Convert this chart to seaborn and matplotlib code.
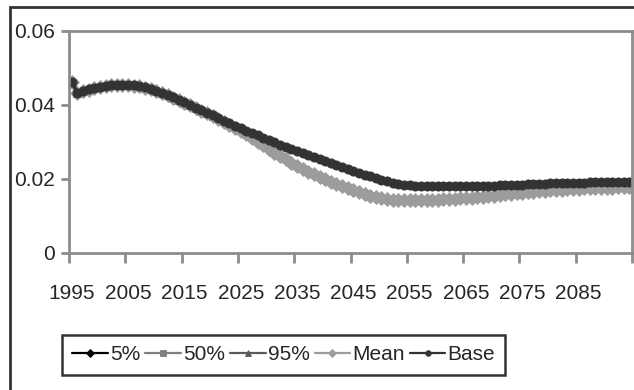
import matplotlib
matplotlib.use("Agg")
import matplotlib.pyplot as plt
from matplotlib.lines import Line2D
import seaborn as sns

# ---- data (one value per year, 1995-2094) ----
years = list(range(1995, 2095))

base = [
    0.0462, 0.0433, 0.0438, 0.0442, 0.0446, 0.0449, 0.0452, 0.0454, 0.0455, 0.0455,
    0.0455, 0.0453, 0.0451, 0.0448, 0.0444, 0.0439, 0.0433, 0.0427, 0.0421, 0.0414,
    0.0407, 0.0400, 0.0393, 0.0386, 0.0379, 0.0372, 0.0365, 0.0358, 0.0351, 0.0344,
    0.0337, 0.0331, 0.0324, 0.0318, 0.0311, 0.0305, 0.0299, 0.0293, 0.0287, 0.0281,
    0.0276, 0.0270, 0.0264, 0.0259, 0.0253, 0.0248, 0.0242, 0.0237, 0.0232, 0.0227,
    0.0222, 0.0217, 0.0212, 0.0207, 0.0202, 0.0198, 0.0194, 0.0190, 0.0187, 0.0185,
    0.0183, 0.0182, 0.0181, 0.0180, 0.0180, 0.0180, 0.0180, 0.0180, 0.0180, 0.0181,
    0.0181, 0.0181, 0.0181, 0.0182, 0.0182, 0.0182, 0.0183, 0.0183, 0.0184, 0.0184,
    0.0185, 0.0186, 0.0186, 0.0187, 0.0187, 0.0188, 0.0188, 0.0189, 0.0189, 0.0190,
    0.0190, 0.0190, 0.0191, 0.0191, 0.0191, 0.0192, 0.0192, 0.0192, 0.0193, 0.0193,
]

mean = [
    0.0461, 0.0432, 0.0437, 0.0441, 0.0445, 0.0448, 0.0451, 0.0453, 0.0454, 0.0454,
    0.0454, 0.0452, 0.0450, 0.0447, 0.0443, 0.0438, 0.0432, 0.0426, 0.0420, 0.0413,
    0.0406, 0.0399, 0.0392, 0.0385, 0.0378, 0.0370, 0.0363, 0.0355, 0.0347, 0.0339,
    0.0330, 0.0321, 0.0311, 0.0301, 0.0291, 0.0281, 0.0271, 0.0262, 0.0253, 0.0244,
    0.0236, 0.0228, 0.0220, 0.0213, 0.0206, 0.0199, 0.0193, 0.0187, 0.0181, 0.0175,
    0.0169, 0.0164, 0.0159, 0.0155, 0.0151, 0.0148, 0.0146, 0.0144, 0.0143, 0.0142,
    0.0142, 0.0142, 0.0143, 0.0143, 0.0144, 0.0144, 0.0145, 0.0146, 0.0147, 0.0148,
    0.0149, 0.0150, 0.0151, 0.0152, 0.0154, 0.0155, 0.0157, 0.0159, 0.0160, 0.0162,
    0.0163, 0.0164, 0.0166, 0.0167, 0.0168, 0.0169, 0.0170, 0.0171, 0.0172, 0.0173,
    0.0174, 0.0175, 0.0175, 0.0176, 0.0176, 0.0177, 0.0177, 0.0178, 0.0178, 0.0179,
]

p5 = [
    0.0460, 0.0431, 0.0436, 0.0440, 0.0444, 0.0447, 0.0450, 0.0452, 0.0453, 0.0453,
    0.0453, 0.0451, 0.0449, 0.0446, 0.0442, 0.0437, 0.0431, 0.0425, 0.0419, 0.0412,
    0.0405, 0.0398, 0.0391, 0.0384, 0.0377, 0.0368, 0.0360, 0.0352, 0.0344, 0.0335,
    0.0326, 0.0317, 0.0307, 0.0297, 0.0287, 0.0277, 0.0267, 0.0258, 0.0249, 0.0240,
    0.0232, 0.0224, 0.0216, 0.0209, 0.0202, 0.0195, 0.0189, 0.0183, 0.0177, 0.0171,
    0.0165, 0.0160, 0.0155, 0.0151, 0.0147, 0.0144, 0.0142, 0.0140, 0.0139, 0.0138,
    0.0138, 0.0138, 0.0139, 0.0139, 0.0140, 0.0140, 0.0141, 0.0142, 0.0143, 0.0144,
    0.0145, 0.0146, 0.0147, 0.0148, 0.0150, 0.0151, 0.0153, 0.0155, 0.0156, 0.0158,
    0.0159, 0.0160, 0.0162, 0.0163, 0.0164, 0.0165, 0.0166, 0.0167, 0.0168, 0.0169,
    0.0170, 0.0171, 0.0171, 0.0172, 0.0172, 0.0173, 0.0173, 0.0174, 0.0174, 0.0175,
]

p50 = [
    0.0461, 0.0432, 0.0437, 0.0441, 0.0445, 0.0448, 0.0451, 0.0453, 0.0454, 0.0454,
    0.0454, 0.0452, 0.0450, 0.0447, 0.0443, 0.0438, 0.0432, 0.0426, 0.0420, 0.0413,
    0.0406, 0.0399, 0.0392, 0.0385, 0.0378, 0.0370, 0.0363, 0.0355, 0.0347, 0.0339,
    0.0329, 0.0320, 0.0310, 0.0300, 0.0290, 0.0280, 0.0270, 0.0261, 0.0252, 0.0243,
    0.0235, 0.0227, 0.0219, 0.0212, 0.0205, 0.0198, 0.0192, 0.0186, 0.0180, 0.0174,
    0.0168, 0.0163, 0.0158, 0.0154, 0.0150, 0.0147, 0.0145, 0.0143, 0.0142, 0.0141,
    0.0141, 0.0141, 0.0142, 0.0142, 0.0143, 0.0143, 0.0144, 0.0145, 0.0146, 0.0147,
    0.0148, 0.0149, 0.0150, 0.0151, 0.0153, 0.0154, 0.0156, 0.0158, 0.0159, 0.0161,
    0.0162, 0.0163, 0.0165, 0.0166, 0.0167, 0.0168, 0.0169, 0.0170, 0.0171, 0.0172,
    0.0173, 0.0174, 0.0174, 0.0175, 0.0175, 0.0176, 0.0176, 0.0177, 0.0177, 0.0178,
]

p95 = [
    0.0461, 0.0432, 0.0437, 0.0441, 0.0445, 0.0448, 0.0451, 0.0453, 0.0454, 0.0454,
    0.0454, 0.0452, 0.0450, 0.0447, 0.0443, 0.0438, 0.0432, 0.0426, 0.0420, 0.0413,
    0.0406, 0.0399, 0.0392, 0.0385, 0.0378, 0.0371, 0.0364, 0.0357, 0.0349, 0.0341,
    0.0333, 0.0324, 0.0314, 0.0304, 0.0294, 0.0284, 0.0274, 0.0265, 0.0256, 0.0247,
    0.0239, 0.0231, 0.0223, 0.0216, 0.0209, 0.0202, 0.0196, 0.0190, 0.0184, 0.0178,
    0.0172, 0.0167, 0.0162, 0.0158, 0.0154, 0.0151, 0.0149, 0.0147, 0.0146, 0.0145,
    0.0145, 0.0145, 0.0146, 0.0146, 0.0147, 0.0147, 0.0148, 0.0149, 0.0150, 0.0151,
    0.0152, 0.0153, 0.0154, 0.0155, 0.0157, 0.0158, 0.0160, 0.0162, 0.0163, 0.0165,
    0.0166, 0.0167, 0.0169, 0.0170, 0.0171, 0.0172, 0.0173, 0.0174, 0.0175, 0.0176,
    0.0177, 0.0178, 0.0178, 0.0179, 0.0179, 0.0180, 0.0180, 0.0181, 0.0181, 0.0182,
]

series_names = ["5%", "50%", "95%", "Mean", "Base"]
year_labels = [str(y) for y in range(1995, 2086, 10)]
y_ticks = [0, 0.02, 0.04, 0.06]
y_labels = ["0", "0.02", "0.04", "0.06"]

# ---- styling ----
sns.set_style("white")
plt.rcParams["font.family"] = ["Liberation Sans", "DejaVu Sans"]

fig = plt.figure(figsize=(6.34, 3.90), dpi=100)
ax = fig.add_axes([69 / 634, 1 - 253 / 390, 563 / 634, 222 / 390])

styles = {
    "5%":   dict(color="#000000", marker="D", markersize=3.8),
    "50%":  dict(color="#7f7f7f", marker="s", markersize=4.6),
    "95%":  dict(color="#5a5a5a", marker="^", markersize=6.0),
    "Mean": dict(color="#9c9c9c", marker="D", markersize=6.8),
    "Base": dict(color="#333333", marker="o", markersize=6.6),
}

for name, vals in zip(series_names, [p5, p50, p95, mean, base]):
    st = styles[name]
    sns.lineplot(x=years, y=vals, ax=ax, label=name, color=st["color"],
                 marker=st["marker"], markersize=st["markersize"],
                 markeredgecolor=st["color"], markeredgewidth=0.6,
                 linewidth=2.4)

ax.set_xlim(1994.5, 2094.5)
ax.set_ylim(0, 0.06)

# tick marks sit on category boundaries, labels centred on the category
ax.set_xticks([1994.5 + 10 * k for k in range(11)])
ax.set_xticklabels([])
ax.set_xticks(list(range(1995, 2086, 10)), minor=True)
ax.set_xticklabels(year_labels, minor=True)
ax.tick_params(axis="x", which="major", length=7, width=2, color="#8c8c8c", direction="out", bottom=True)
ax.tick_params(axis="x", which="minor", length=0, pad=22, labelsize=15, bottom=True)

ax.set_yticks(y_ticks)
ax.set_yticklabels(y_labels)
ax.tick_params(axis="y", length=6, width=2, color="#8c8c8c", direction="out", pad=4,
               labelsize=15, left=True)

for sp in ax.spines.values():
    sp.set_color("#8c8c8c")
    sp.set_linewidth(2)
ax.set_xlabel("")
ax.set_ylabel("")

handles, labels = ax.get_legend_handles_labels()
leg = ax.legend(handles, labels, loc="upper left", ncol=5,
                bbox_to_anchor=(62 / 634, 1 - 335 / 390), bbox_transform=fig.transFigure,
                frameon=True, fancybox=False, edgecolor="#333333", framealpha=1,
                fontsize=15, handlelength=1.7, handletextpad=0.1, columnspacing=0.25,
                borderpad=0.5, borderaxespad=0)
leg.get_frame().set_linewidth(1.8)
for h in leg.legend_handles:
    h.set_markersize(4)
    h.set_linewidth(1.6)

# outer chart frame (cropped at right and bottom)
fig.add_artist(Line2D([10 / 634, 10 / 634], [0, 1 - 7 / 390], transform=fig.transFigure,
                      color="#333333", linewidth=2))
fig.add_artist(Line2D([10 / 634, 1], [1 - 7 / 390, 1 - 7 / 390], transform=fig.transFigure,
                      color="#333333", linewidth=2))

fig.savefig("out.png", dpi=100)
